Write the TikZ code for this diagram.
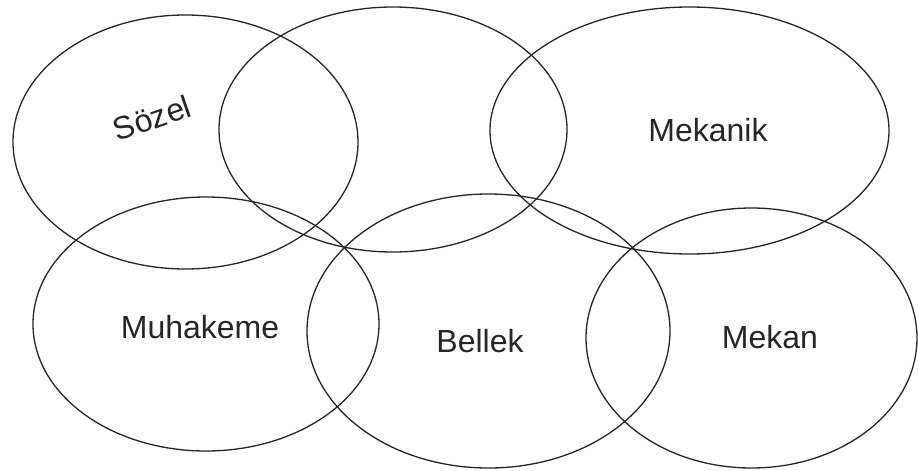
\documentclass[tikz,border=0pt]{standalone}
\usepackage{fontspec}
\setmainfont{Liberation Sans}
\usetikzlibrary{shapes.geometric}
\begin{document}
\begin{tikzpicture}[x=1pt,y=-1pt,
  blob/.style={draw=black!85, line width=1.3pt, ellipse, inner sep=0pt},
  lbl/.style={font=\fontsize{32}{38}\selectfont, text=black!85, inner sep=0pt}]
\useasboundingbox (0,0) rectangle (918,471);
\fill[white] (0,0) rectangle (918,471);
\node[blob, minimum width=345pt, minimum height=254pt] (sozel) at (185.5,142) {};
\node[blob, minimum width=348pt, minimum height=245pt] (orta) at (393,129.5) {};
\node[blob, minimum width=399pt, minimum height=247pt] (mekanik) at (689.5,130.5) {};
\node[blob, minimum width=346pt, minimum height=254pt] (muhakeme) at (206,324) {};
\node[blob, minimum width=363pt, minimum height=274pt] (bellek) at (488.5,331) {};
\node[blob, minimum width=331pt, minimum height=260pt] (mekan) at (751.5,338) {};
\node[lbl, rotate=19] (tsozel) at (152,118) {Sözel};
\node[lbl, anchor=base] (tmekanik) at (708,141) {Mekanik};
\node[lbl, anchor=base] (tmuhakeme) at (200,338) {Muhakeme};
\node[lbl, anchor=base] (tbellek) at (480,352) {Bellek};
\node[lbl, anchor=base] (tmekan) at (770,348) {Mekan};
\end{tikzpicture}
\end{document}
